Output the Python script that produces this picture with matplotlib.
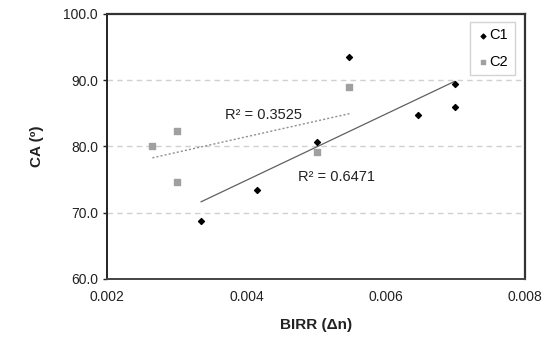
import numpy as np
import matplotlib
matplotlib.use("Agg")
import matplotlib.pyplot as plt

plt.rcParams['font.family'] = ['Liberation Sans', 'DejaVu Sans']

c1_x = [0.00335, 0.00415, 0.00502, 0.00548, 0.00647, 0.00699, 0.00699]
c1_y = [68.7, 73.4, 80.7, 93.5, 84.8, 89.4, 85.9]
c2_x = [0.00265, 0.00300, 0.00300, 0.00502, 0.00548]
c2_y = [80.1, 82.3, 74.7, 79.2, 89.0]
x_ticks = [0.002, 0.004, 0.006, 0.008]
y_ticks = [60, 70, 80, 90, 100]
r2_labels = ["R² = 0.6471", "R² = 0.3525"]

fig = plt.figure(figsize=(5.52, 3.47), dpi=100)
ax = fig.add_axes([0.194, 0.196, 0.757, 0.764])

ax.set_xlim(0.002, 0.008)
ax.set_ylim(60, 100)

for y in [70, 80, 90]:
    ax.axhline(y, color='#d0d0d0', lw=1.0, ls=(0, (4, 3)), zorder=0)

ax.scatter(c1_x, c1_y, marker='D', s=9, color='black', zorder=3, label='C1')
ax.scatter(c2_x, c2_y, marker='s', s=13, color='#a0a0a0', zorder=3, label='C2')

# trendlines
p1 = np.polyfit(c1_x, c1_y, 1)
xs1 = np.array([min(c1_x), max(c1_x)])
ax.plot(xs1, np.polyval(p1, xs1), color='#606060', lw=0.9, zorder=2)
p2 = np.polyfit(c2_x, c2_y, 1)
xs2 = np.array([min(c2_x), max(c2_x)])
ax.plot(xs2, np.polyval(p2, xs2), color='#909090', lw=1.0, ls=(0, (1.5, 1.5)), zorder=2)

ax.text(0.00474, 75.4, r2_labels[0], fontsize=10.5, color='#222222', va='center')
ax.text(0.00369, 84.8, r2_labels[1], fontsize=10.5, color='#222222', va='center')

ax.set_xticks(x_ticks)
ax.set_xticklabels(["0.002", "0.004", "0.006", "0.008"])
ax.set_yticks(y_ticks)
ax.set_yticklabels([f"{v:.1f}" for v in y_ticks])
ax.tick_params(axis='both', labelsize=10, colors='#222222', length=3, width=1)
ax.tick_params(axis='x', length=0, pad=8)

for s in ['top', 'right']:
    ax.spines[s].set_linewidth(1.6)
    ax.spines[s].set_color('#333333')
ax.spines['left'].set_linewidth(1.4)
ax.spines['left'].set_color('#222222')
ax.spines['bottom'].set_linewidth(1.4)
ax.spines['bottom'].set_color('#444444')
ax.spines['bottom'].set_linestyle((0, (1, 1)))

ax.set_xlabel("BIRR (Δn)", fontsize=11, fontweight='bold', labelpad=10, color='#222222')
ax.set_ylabel("CA (º)", fontsize=11, fontweight='bold', labelpad=14, color='#222222')

leg = ax.legend(loc='upper right', bbox_to_anchor=(0.976, 0.97), borderaxespad=0,
                fontsize=10.5, frameon=True, fancybox=False, edgecolor='#c8c8c8',
                handletextpad=0.0, handlelength=0.9, borderpad=0.45, labelspacing=0.85,
                markerscale=0.8)
leg.get_frame().set_linewidth(1.0)

fig.savefig("out.png", dpi=100)
